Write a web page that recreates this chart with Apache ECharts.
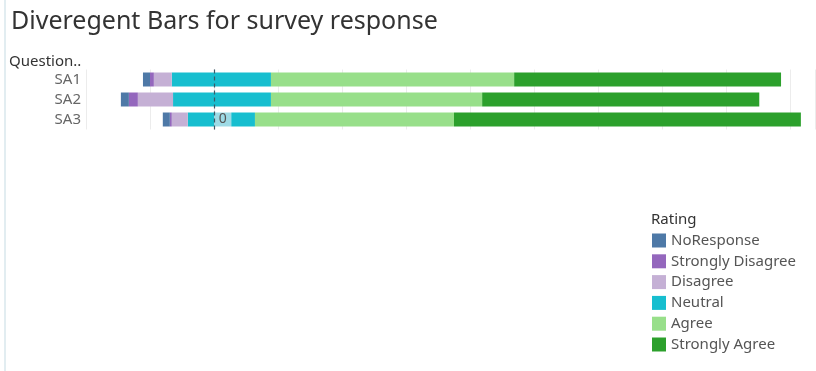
<!DOCTYPE html>
<html>
<head>
<meta charset="utf-8">
<script src="https://cdn.jsdelivr.net/npm/echarts@6/dist/echarts.min.js"></script>
<style>
html,body{margin:0;padding:0;background:#fff;}
#border{position:absolute;left:4px;top:0;width:2px;height:371px;background:#e2edf1;}
#chart{position:absolute;left:0;top:0;width:816px;height:371px;}
</style>
</head>
<body>
<div id="border"></div>
<div id="chart"></div>
<script>
// Data (percent of responses); negatives sit left of the zero line
var categories = ['SA1', 'SA2', 'SA3'];
var noResponse = [-1.1, -1.25, -1.1];
var stronglyDisagree = [-0.6, -1.4, -0.3];
var disagree = [-2.8, -5.5, -2.5];
var neutralNeg = [-6.6, -6.4, -4.1];
var neutralZeroLabel = [0, 0, 2.7];
var neutralPos = [8.9, 8.9, 3.7];
var agree = [38.0, 33.0, 31.1];
var stronglyAgree = [41.7, 43.3, 54.2];
var legendNames = ['NoResponse', 'Strongly Disagree', 'Disagree', 'Neutral', 'Agree', 'Strongly Agree'];

var FONT = 'Noto Sans';
var chart = echarts.init(document.getElementById('chart'), null, {renderer: 'canvas'});

function bar(name, data, color, extra) {
  var s = {
    name: name, type: 'bar', stack: 'total', data: data, barWidth: 14,
    itemStyle: {color: color}, emphasis: {disabled: true}, silent: true
  };
  if (extra) Object.assign(s, extra);
  return s;
}

chart.setOption({
  animation: false,
  textStyle: {fontFamily: FONT},
  title: [
    {text: 'Diveregent Bars for survey response', left: 6, top: 4,
     textStyle: {fontFamily: FONT, fontSize: 25, fontWeight: 'normal', color: '#333'}},
    {text: 'Question..', left: 4, top: 49,
     textStyle: {fontFamily: FONT, fontSize: 15, fontWeight: 'normal', color: '#333'}},
    {text: 'Rating', left: 646, top: 207,
     textStyle: {fontFamily: FONT, fontSize: 15, fontWeight: 'normal', color: '#333'}}
  ],
  legend: {
    data: legendNames, orient: 'vertical', left: 652, top: 233,
    icon: 'rect', itemWidth: 14, itemHeight: 14, itemGap: 5.8,
    textStyle: {fontFamily: FONT, fontSize: 15, color: '#555', padding: [0, 0, 0, 0]},
    padding: 0, selectedMode: false
  },
  grid: {left: 86, top: 69.5, width: 729.6, height: 60, containLabel: false},
  xAxis: {
    type: 'value', min: -20, max: 94, interval: 10,
    axisLabel: {show: false}, axisTick: {show: false},
    axisLine: {show: false},
    splitLine: {show: true, lineStyle: {color: '#ececec', width: 1}}
  },
  yAxis: {
    type: 'category', data: categories, inverse: true,
    axisLine: {show: true, lineStyle: {color: '#e6e6e6'}}, axisTick: {show: false},
    axisLabel: {fontFamily: FONT, fontSize: 15, color: '#666', margin: 5},
    splitLine: {show: false}
  },
  series: [
    bar('Neutral', neutralNeg, '#17becf'),
    bar('Neutral label', neutralZeroLabel, '#9edae5', {
      label: {show: true, position: 'inside', formatter: function (p) { return p.value > 0 ? '0' : ''; },
              fontFamily: FONT, fontSize: 14, color: '#555'}
    }),
    bar('Neutral', neutralPos, '#17becf'),
    bar('Disagree', disagree, '#c5b0d5'),
    bar('Strongly Disagree', stronglyDisagree, '#9467bd'),
    bar('NoResponse', noResponse, '#4e79a7'),
    bar('Agree', agree, '#98df8a'),
    bar('Strongly Agree', stronglyAgree, '#2ca02c', {
      markLine: {
        silent: true, symbol: ['none', 'none'], label: {show: false},
        lineStyle: {type: [4, 3], color: '#3f5866', width: 1.2},
        data: [{xAxis: 0}]
      }
    })
  ]
});
</script>
</body>
</html>
